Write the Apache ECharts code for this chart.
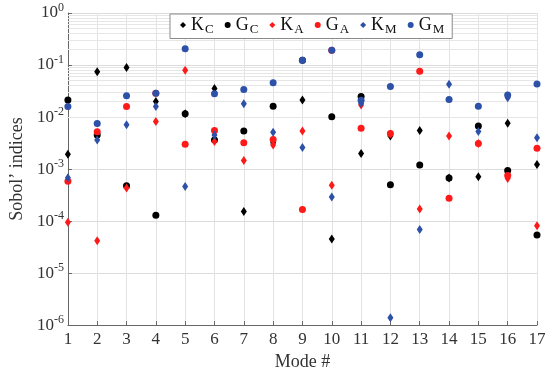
<!DOCTYPE html>
<html><head><meta charset="utf-8">
<script src="https://cdn.jsdelivr.net/npm/echarts@6/dist/echarts.min.js"></script>
<style>html,body{margin:0;padding:0;background:#fff}#c{width:550px;height:376px}</style>
</head><body><div id="c"></div>
<script>
const modes = [1,2,3,4,5,6,7,8,9,10,11,12,13,14,15,16,17];
const K_C = [0.00192,0.074,0.090,0.0199,0.0116,0.0352,0.000152,0.0032,0.0212,0.000045,0.0020,0.0043,0.0055,0.00067,0.00071,0.0076,0.00122];
const G_C = [0.0212,0.0045,0.00048,0.00013,0.0116,0.0036,0.0054,0.0162,0.124,0.0101,0.0249,0.00050,0.0012,0.00067,0.0067,0.00094,0.000054];
const K_A = [0.000095,0.000042,0.00043,0.0082,0.079,0.0034,0.00146,0.0029,0.0054,0.00049,0.0171,0.0047,0.00017,0.0043,0.0031,0.00066,0.000081];
const G_A = [0.00058,0.0052,0.0159,0.0288,0.0030,0.0055,0.0032,0.0037,0.000166,0.192,0.0061,0.0048,0.076,0.000275,0.0031,0.00075,0.0025];
const K_M = [0.00068,0.0036,0.0071,0.0159,0.00046,0.0045,0.018,0.0051,0.0026,0.00029,0.0184,0.00000138,0.000069,0.0425,0.0053,0.0236,0.0040];
const G_M = [0.0159,0.0075,0.0257,0.0288,0.206,0.028,0.0338,0.0458,0.124,0.192,0.021,0.0385,0.157,0.0218,0.0162,0.0264,0.0432];
const seriesNames = ['K_C','G_C','K_A','G_A','K_M','G_M'];
const seriesData = [K_C,G_C,K_A,G_A,K_M,G_M];
const colors = ['#000000','#000000','#ff1a1a','#ff1a1a','#2d50a8','#2d50a8'];
const symbols = ['diamond','circle','diamond','circle','diamond','circle'];

// minor log gridlines (2..9 per decade)
const minorLines = [];
for (let e = -6; e < 0; e++) for (let m = 2; m <= 9; m++) minorLines.push({yAxis: m * Math.pow(10, e)});

const serif = 'Liberation Serif';
const series = seriesNames.map((n, i) => ({
  name: n, type: 'scatter',
  symbol: symbols[i],
  symbolSize: symbols[i] === 'diamond' ? [6, 9] : 7,
  itemStyle: {color: colors[i], opacity: 1},
  data: modes.map((m, j) => [m, seriesData[i][j]]),
  z: 3 + i
}));
series[0].markLine = {
  silent: true, symbol: ['none','none'], label: {show: false},
  lineStyle: {color: '#e6e6e6', width: 1, type: 'solid'},
  animation: false, data: minorLines, z: 1
};

const chart = echarts.init(document.getElementById('c'), null, {renderer: 'canvas'});
chart.setOption({
  animation: false,
  grid: {left: 61, right: 13, top: 13, bottom: 45},
  legend: {
    left: 170, top: 14, orient: 'horizontal',
    data: seriesNames.map((n, i) => ({name: n, itemStyle: {opacity: 1}})),
    backgroundColor: '#fff', borderColor: '#8a8a8a', borderWidth: 1,
    padding: [2, 8, 2, 10], itemGap: 11, itemWidth: 6, itemHeight: 6,
    formatter: n => '{a|' + n.split('_')[0] + '}{b|' + n.split('_')[1] + '}',
    textStyle: {
      rich: {
        a: {fontFamily: serif, fontSize: 18, color: '#111'},
        b: {fontFamily: serif, fontSize: 13, color: '#111', padding: [10, 0, 0, 1]}
      }
    }
  },
  xAxis: {
    type: 'value', min: 1, max: 17, interval: 1,
    name: 'Mode #', nameLocation: 'middle', nameGap: 26,
    nameTextStyle: {fontFamily: serif, fontSize: 18, color: '#333'},
    axisLine: {onZero: false, lineStyle: {color: '#666'}},
    axisTick: {inside: true, length: 4, lineStyle: {color: '#666'}},
    axisLabel: {fontFamily: serif, fontSize: 17, color: '#333', margin: 6},
    splitLine: {show: true, lineStyle: {color: '#e3e3e3'}}
  },
  yAxis: {
    type: 'log', logBase: 10, min: 1e-6, max: 1,
    name: 'Sobol\u2019 indices', nameLocation: 'middle', nameGap: 40,
    nameTextStyle: {fontFamily: serif, fontSize: 18, color: '#333'},
    axisLine: {show: true, lineStyle: {color: '#666'}},
    axisTick: {show: true, inside: true, length: 4, lineStyle: {color: '#666'}},
    axisLabel: {
      margin: 4,
      formatter: v => { const e = Math.round(Math.log10(v)); return '{b|10}{s|' + (e < 0 ? '-' + (-e) : e) + '}'; },
      rich: {
        b: {fontFamily: serif, fontSize: 17, color: '#333'},
        s: {fontFamily: serif, fontSize: 12, color: '#333', padding: [0, 0, 10, 0]}
      }
    },
    splitLine: {show: true, lineStyle: {color: '#dcdcdc'}}
  },
  series: series
});
</script></body></html>
